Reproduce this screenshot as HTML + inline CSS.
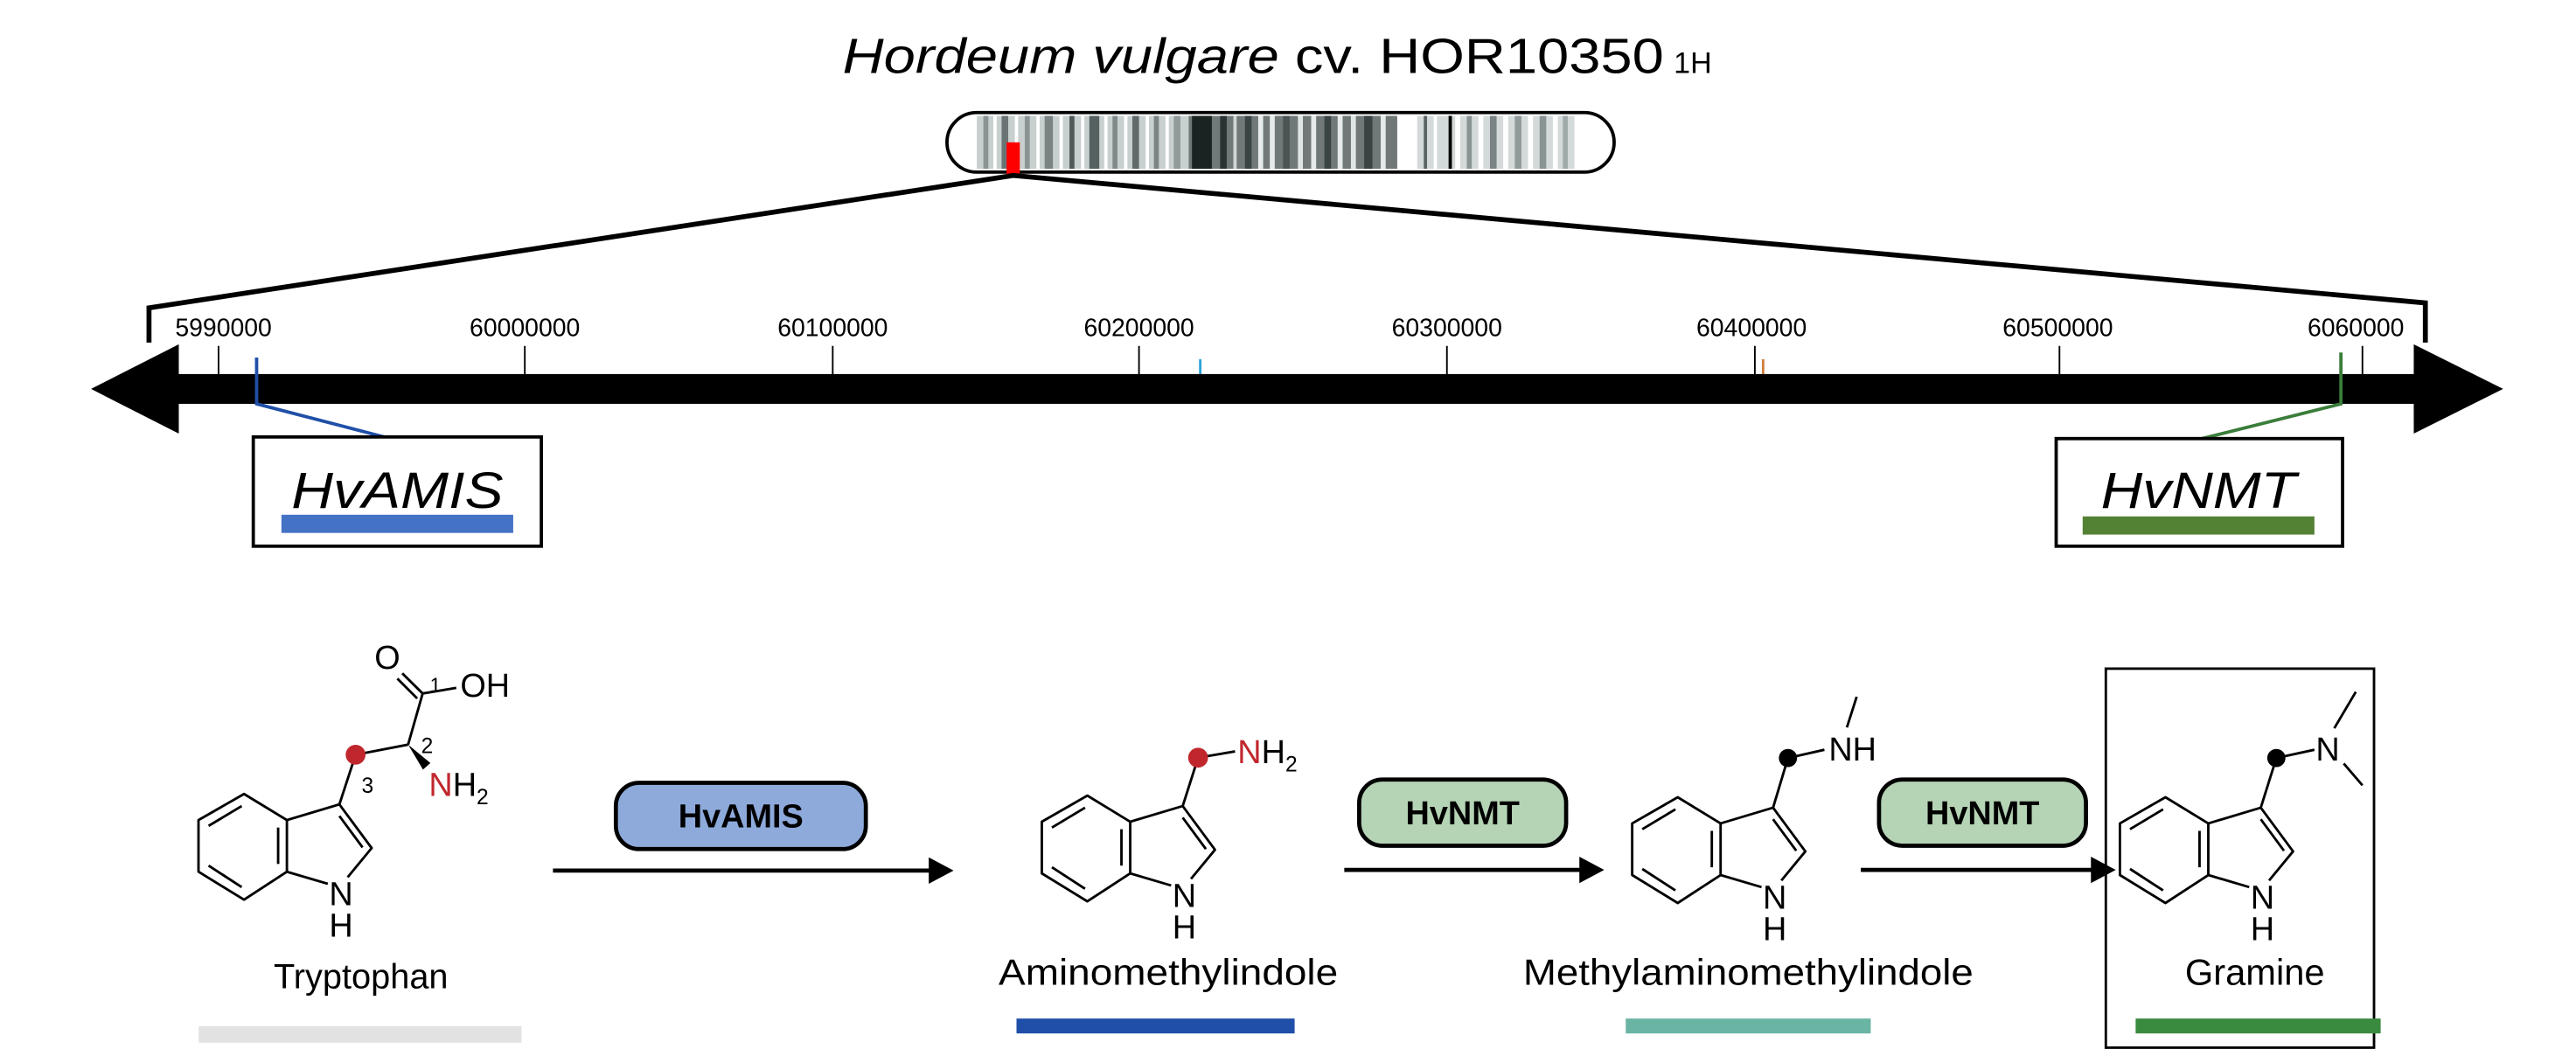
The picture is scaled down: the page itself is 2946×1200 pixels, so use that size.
<!DOCTYPE html>
<html><head><meta charset="utf-8"><style>html,body{margin:0;padding:0;background:#fff}svg{display:block}text{font-family:"Liberation Sans",Arial,sans-serif}</style></head>
<body>
<svg width="2946" height="1200" viewBox="0 0 1556 633.8" xmlns="http://www.w3.org/2000/svg">
<defs>
<g id="indole" fill="none" stroke="#000" stroke-width="1.5" stroke-linejoin="round">
 <polygon points="147.4,479.7 173.3,495.5 173.3,526.7 147.4,543.6 119.9,526.7 119.9,495.5"/>
 <line x1="126" y1="499" x2="146" y2="487"/>
 <line x1="168" y1="500" x2="168" y2="522"/>
 <line x1="126" y1="523" x2="146" y2="536"/>
 <polyline points="173.3,495.5 205,486 224.5,512.4 210,530"/>
 <line x1="173.3" y1="526.7" x2="198" y2="534"/>
 <line x1="205" y1="493" x2="219" y2="512"/>
 <text x="206" y="547" font-size="20" text-anchor="middle" fill="#000" stroke="none">N</text>
 <text x="206" y="566" font-size="20" text-anchor="middle" fill="#000" stroke="none">H</text>
</g>
</defs>

<!-- title -->
<text x="509" y="44" font-size="30" textLength="496" lengthAdjust="spacingAndGlyphs"><tspan font-style="italic">Hordeum vulgare</tspan> cv. HOR10350</text>
<text x="1011" y="44" font-size="18">1H</text>

<!-- chromosome -->
<rect x="572" y="68" width="403" height="36" rx="18" fill="#fff" stroke="#000" stroke-width="2"/>
<g>
<rect x="590" y="70" width="128" height="32" fill="#c8cfcf"/>
<rect x="718" y="70" width="126" height="32" fill="#707878"/>
<rect x="856" y="70" width="95" height="32" fill="#d4d9d9"/>
<rect x="594" y="70" width="3" height="32" fill="#8a9494"/>
<rect x="600" y="70" width="2" height="32" fill="#fff"/>
<rect x="605" y="70" width="4" height="32" fill="#6a7474"/>
<rect x="613" y="70" width="2" height="32" fill="#fff"/>
<rect x="619" y="70" width="3" height="32" fill="#8a9494"/>
<rect x="626" y="70" width="2" height="32" fill="#fff"/>
<rect x="631" y="70" width="5" height="32" fill="#7a8484"/>
<rect x="640" y="70" width="2" height="32" fill="#fff"/>
<rect x="646" y="70" width="3" height="32" fill="#505a5a"/>
<rect x="653" y="70" width="2" height="32" fill="#fff"/>
<rect x="658" y="70" width="6" height="32" fill="#556060"/>
<rect x="667" y="70" width="2" height="32" fill="#fff"/>
<rect x="672" y="70" width="3" height="32" fill="#808a8a"/>
<rect x="679" y="70" width="2" height="32" fill="#fff"/>
<rect x="684" y="70" width="4" height="32" fill="#606a6a"/>
<rect x="692" y="70" width="2" height="32" fill="#fff"/>
<rect x="697" y="70" width="3" height="32" fill="#7a8484"/>
<rect x="704" y="70" width="2" height="32" fill="#fff"/>
<rect x="709" y="70" width="4" height="32" fill="#909a9a"/>
<rect x="720" y="70" width="12" height="32" fill="#1a2222"/>
<rect x="737" y="70" width="4" height="32" fill="#2a3333"/>
<rect x="745" y="70" width="2" height="32" fill="#d0d6d6"/>
<rect x="752" y="70" width="4" height="32" fill="#3a4444"/>
<rect x="760" y="70" width="3" height="32" fill="#e6eaea"/>
<rect x="767" y="70" width="3" height="32" fill="#e6eaea"/>
<rect x="775" y="70" width="4" height="32" fill="#4a5454"/>
<rect x="784" y="70" width="3" height="32" fill="#dfe4e4"/>
<rect x="792" y="70" width="3" height="32" fill="#e6eaea"/>
<rect x="800" y="70" width="4" height="32" fill="#3a4444"/>
<rect x="808" y="70" width="3" height="32" fill="#e6eaea"/>
<rect x="816" y="70" width="3" height="32" fill="#dfe4e4"/>
<rect x="824" y="70" width="5" height="32" fill="#3a4444"/>
<rect x="834" y="70" width="3" height="32" fill="#e6eaea"/>
<rect x="844" y="70" width="12" height="32" fill="#fff"/>
<rect x="860" y="70" width="2" height="32" fill="#5a6464"/>
<rect x="866" y="70" width="2" height="32" fill="#fff"/>
<rect x="875" y="70" width="2" height="32" fill="#000"/>
<rect x="879" y="70" width="3" height="32" fill="#fff"/>
<rect x="886" y="70" width="3" height="32" fill="#8a9494"/>
<rect x="893" y="70" width="3" height="32" fill="#fff"/>
<rect x="900" y="70" width="4" height="32" fill="#7a8484"/>
<rect x="908" y="70" width="3" height="32" fill="#fff"/>
<rect x="915" y="70" width="4" height="32" fill="#909a9a"/>
<rect x="923" y="70" width="3" height="32" fill="#fff"/>
<rect x="930" y="70" width="4" height="32" fill="#8a9494"/>
<rect x="938" y="70" width="3" height="32" fill="#fff"/>
<rect x="944" y="70" width="3" height="32" fill="#a0aaaa"/>
</g>
<rect x="608" y="86" width="8" height="20" fill="#f00"/>

<!-- zoom lines -->
<polyline points="90,207 90,186 612,106 1465,183 1465,207" fill="none" stroke="#000" stroke-width="3"/>

<!-- tick labels -->
<g font-size="15" text-anchor="middle">
<text x="135" y="203">5990000</text>
<text x="317" y="203">60000000</text>
<text x="503" y="203">60100000</text>
<text x="688" y="203">60200000</text>
<text x="874" y="203">60300000</text>
<text x="1058" y="203">60400000</text>
<text x="1243" y="203">60500000</text>
<text x="1423" y="203">6060000</text>
</g>
<g stroke="#000" stroke-width="1">
<line x1="132" y1="209" x2="132" y2="230"/>
<line x1="317" y1="209" x2="317" y2="230"/>
<line x1="503" y1="209" x2="503" y2="230"/>
<line x1="688" y1="209" x2="688" y2="230"/>
<line x1="874" y1="209" x2="874" y2="230"/>
<line x1="1060" y1="209" x2="1060" y2="230"/>
<line x1="1244" y1="209" x2="1244" y2="230"/>
<line x1="1427" y1="209" x2="1427" y2="230"/>
</g>
<line x1="725" y1="217" x2="725" y2="228" stroke="#29a3d6" stroke-width="1.5"/>
<line x1="1065" y1="217" x2="1065" y2="228" stroke="#d08040" stroke-width="1.5"/>

<!-- bar with arrowheads -->
<rect x="106" y="226" width="1354" height="18" fill="#000"/>
<polygon points="55,235 108,208 108,262" fill="#000"/>
<polygon points="1512,235 1458,208 1458,262" fill="#000"/>

<!-- gene markers -->
<polyline points="155,216 155,244 232,264" fill="none" stroke="#1f4fa8" stroke-width="2"/>
<polyline points="1414,213 1414,244 1330,265" fill="none" stroke="#3a7d3a" stroke-width="2"/>

<!-- gene boxes -->
<rect x="153" y="264" width="174" height="66" fill="#fff" stroke="#000" stroke-width="2"/>
<text x="240" y="307" font-size="31" font-style="italic" text-anchor="middle" textLength="128" lengthAdjust="spacingAndGlyphs">HvAMIS</text>
<rect x="170" y="311" width="140" height="11" fill="#4472c4"/>
<rect x="1242" y="265" width="173" height="65" fill="#fff" stroke="#000" stroke-width="2"/>
<text x="1328" y="307" font-size="31" font-style="italic" text-anchor="middle" textLength="118" lengthAdjust="spacingAndGlyphs">HvNMT</text>
<rect x="1258" y="312" width="140" height="11" fill="#548235"/>

<!-- Tryptophan -->
<use href="#indole"/>
<g fill="none" stroke="#000" stroke-width="1.5">
 <line x1="205" y1="486" x2="214.8" y2="456"/>
 <line x1="214.8" y1="456" x2="246.5" y2="449.9"/>
 <line x1="246.5" y1="449.9" x2="255.3" y2="419"/>
 <line x1="255.3" y1="419" x2="243" y2="406.8"/>
 <line x1="252" y1="422" x2="240" y2="410"/>
 <line x1="255.3" y1="419" x2="275.6" y2="415.6"/>
</g>
<polygon points="246.5,449.9 260,461 255.5,465" fill="#000"/>
<circle cx="214.8" cy="456" r="6" fill="#c0272d"/>
<text x="234" y="404" font-size="20" text-anchor="middle">O</text>
<text x="278" y="421" font-size="20">OH</text>
<text x="263" y="418" font-size="12" text-anchor="middle">1</text>
<text x="258" y="455" font-size="13" text-anchor="middle">2</text>
<text x="222" y="479" font-size="13" text-anchor="middle">3</text>
<text x="259" y="481" font-size="20"><tspan fill="#c0272d">N</tspan>H<tspan font-size="13" dy="5">2</tspan></text>
<text x="218" y="597" font-size="21" text-anchor="middle">Tryptophan</text>
<rect x="120" y="620" width="195" height="10" fill="#e2e2e2"/>

<!-- step 1 -->
<rect x="372" y="473" width="151" height="40" rx="14" fill="#8eaadb" stroke="#000" stroke-width="2.5"/>
<text x="447.5" y="500" font-size="20" font-weight="bold" text-anchor="middle">HvAMIS</text>
<line x1="334" y1="526" x2="565" y2="526" stroke="#000" stroke-width="2.5"/>
<polygon points="576,526 561,518 561,534" fill="#000"/>

<!-- Aminomethylindole -->
<use href="#indole" transform="translate(509.4,1)"/>
<line x1="714.4" y1="487" x2="723.7" y2="457.8" stroke="#000" stroke-width="1.5"/>
<line x1="723.7" y1="457.8" x2="746" y2="454" stroke="#000" stroke-width="1.5"/>
<circle cx="723.7" cy="457.8" r="6" fill="#c0272d"/>
<text x="747.5" y="461" font-size="20"><tspan fill="#c0272d">N</tspan>H<tspan font-size="13" dy="5">2</tspan></text>
<text x="705.7" y="595" font-size="22" text-anchor="middle" textLength="205" lengthAdjust="spacingAndGlyphs">Aminomethylindole</text>
<rect x="614" y="615.4" width="168" height="9" fill="#1f4fa8"/>

<!-- step 2 -->
<rect x="821" y="471" width="125" height="40" rx="14" fill="#b5d3b5" stroke="#000" stroke-width="2.5"/>
<text x="883.5" y="498" font-size="20" font-weight="bold" text-anchor="middle">HvNMT</text>
<line x1="812" y1="525.6" x2="958" y2="525.6" stroke="#000" stroke-width="2.5"/>
<polygon points="969,525.6 954,517.6 954,533.6" fill="#000"/>

<!-- Methylaminomethylindole -->
<use href="#indole" transform="translate(866,2)"/>
<line x1="1071" y1="488" x2="1080" y2="458" stroke="#000" stroke-width="1.5"/>
<line x1="1080" y1="458" x2="1102" y2="453" stroke="#000" stroke-width="1.5"/>
<line x1="1115.6" y1="439.5" x2="1121.5" y2="421" stroke="#000" stroke-width="1.5"/>
<circle cx="1080" cy="458" r="5.5" fill="#000"/>
<text x="1104.6" y="459.6" font-size="20">NH</text>
<text x="1056" y="595" font-size="22" text-anchor="middle" textLength="272" lengthAdjust="spacingAndGlyphs">Methylaminomethylindole</text>
<rect x="982" y="615.4" width="148" height="9" fill="#6ab4a4"/>

<!-- step 3 -->
<rect x="1135" y="471" width="125" height="40" rx="14" fill="#b5d3b5" stroke="#000" stroke-width="2.5"/>
<text x="1197.5" y="498" font-size="20" font-weight="bold" text-anchor="middle">HvNMT</text>
<line x1="1124" y1="525.6" x2="1266" y2="525.6" stroke="#000" stroke-width="2.5"/>
<polygon points="1278,525.6 1263,517.6 1263,533.6" fill="#000"/>

<!-- Gramine -->
<rect x="1272" y="404" width="162" height="229" fill="none" stroke="#000" stroke-width="1.5"/>
<use href="#indole" transform="translate(1160.6,2)"/>
<line x1="1365.6" y1="488" x2="1375" y2="458" stroke="#000" stroke-width="1.5"/>
<line x1="1375" y1="458" x2="1398" y2="453" stroke="#000" stroke-width="1.5"/>
<line x1="1410" y1="440" x2="1423" y2="418" stroke="#000" stroke-width="1.5"/>
<line x1="1415.7" y1="461.3" x2="1427" y2="474.5" stroke="#000" stroke-width="1.5"/>
<circle cx="1375" cy="458" r="5.5" fill="#000"/>
<text x="1406" y="459.6" font-size="20" text-anchor="middle">N</text>
<text x="1362" y="595" font-size="22" text-anchor="middle">Gramine</text>
<rect x="1290" y="615.4" width="148" height="9" fill="#3a8a3f"/>
</svg>
</body></html>
